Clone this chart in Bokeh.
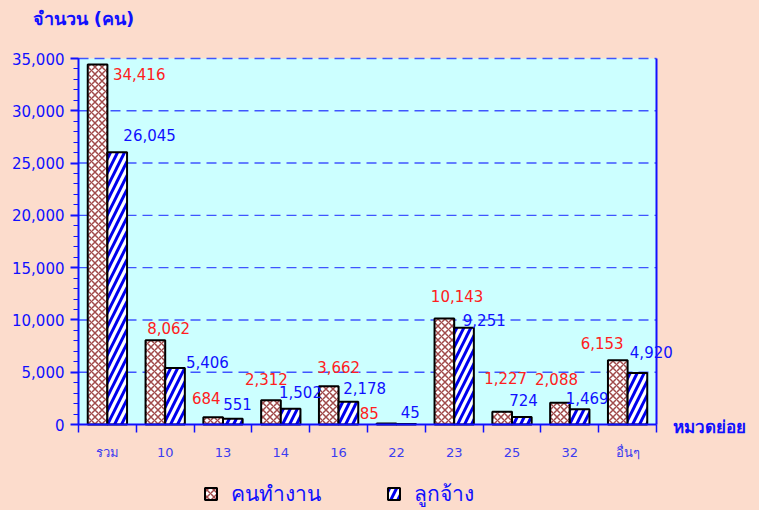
import numpy as np
from bokeh.plotting import figure
from bokeh.models import (ColumnDataSource, FixedTicker, Label, Legend, LegendItem,
                          NumeralTickFormatter)
from bokeh.embed import file_html
from bokeh.resources import INLINE
from bokeh.core.properties import value

# ---- data ----
categories = ["รวม", "10", "13", "14", "16", "22", "23", "25", "32", "อื่นๆ"]
workers = [34416, 8062, 684, 2312, 3662, 85, 10143, 1227, 2088, 6153]      # คนทำงาน
employees = [26045, 5406, 551, 1502, 2178, 45, 9251, 724, 1469, 4920]       # ลูกจ้าง
y_ticks = [0, 5000, 10000, 15000, 20000, 25000, 30000, 35000]

# label nudges (category units horizontally, pixels above bar top vertically)
red_dx = [0.55, 0.06, -0.29, -0.25, 0.0, -0.47, 0.05, -0.11, -0.23, -0.44]
red_dy = [-9, 12, 19, 21, 19, 11, 22, 34, 24, 17]
blue_dx = [0.73, 0.73, 0.25, 0.34, 0.45, 0.24, 0.52, 0.20, 0.30, 0.41]
blue_dy = [17, 6, 15, 17, 14, 12, 8, 17, 11, 21]

BLUE = "#1010ff"
RED = "#ff2020"
PEACH = "#fcdccc"
CYAN = "#ccffff"
FONT = "DejaVu Sans"

# ---- layout (canvas pixels) ----
W, H = 759, 510
PL, PR, PT, PB = 78, 656, 58, 424   # plot-area edges

n = len(categories)
ymax = y_ticks[-1]
centers = np.arange(n) + 0.5
bw = 0.34

# the frame covers the whole canvas; axes are pinned at x=0 / y=0
sx = (PR - PL) / n
sy = ymax / (PB - PT)
x_range = (-PL / sx, (W - PL) / sx)
y_range = (-(H - PB) * sy, ymax + PT * sy)

src = ColumnDataSource(dict(
    xr=centers - bw / 2, xb=centers + bw / 2,
    w=workers, e=employees,
    wl=[f"{v:,}" for v in workers], el=[f"{v:,}" for v in employees],
    xrl=centers + np.array(red_dx), xbl=centers + np.array(blue_dx),
    ryo=[-d for d in red_dy], byo=[-d for d in blue_dy],
))

p = figure(width=W, height=H, x_range=x_range, y_range=y_range,
           output_backend="svg", toolbar_location=None, title=None,
           min_border=0)
p.background_fill_color = PEACH
p.border_fill_color = PEACH
p.outline_line_color = None
p.xgrid.grid_line_color = None
p.ygrid.grid_line_color = None

# plotting-area background and dashed grid lines
p.quad(left=[0], right=[n], bottom=[0], top=[ymax], fill_color=CYAN, line_color=None)
p.segment(x0=[0] * (len(y_ticks) - 1), x1=[n] * (len(y_ticks) - 1),
          y0=y_ticks[1:], y1=y_ticks[1:], line_color="#3f55ff", line_dash="10 6",
          line_width=1.4)
# right border line of the plotting area
p.segment(x0=[n], x1=[n], y0=[0], y1=[ymax], line_color=BLUE, line_width=2)

r_red = p.vbar(x="xr", top="w", width=bw, source=src, fill_color="white",
               line_color="black", line_width=2,
               hatch_pattern="diagonal_cross", hatch_color="#a04a4a",
               hatch_scale=7, hatch_weight=1.5)
r_blue = p.vbar(x="xb", top="e", width=bw, source=src, fill_color="white",
                line_color="black", line_width=2,
                hatch_pattern="right_diagonal_line", hatch_color="#0000ee",
                hatch_scale=14, hatch_weight=3)

p.text(x="xrl", y="w", text="wl", source=src, y_offset="ryo",
       text_align="center", text_baseline="middle", text_color=RED,
       text_font=value(FONT), text_font_size="15px")
p.text(x="xbl", y="e", text="el", source=src, y_offset="byo",
       text_align="center", text_baseline="middle", text_color=BLUE,
       text_font=value(FONT), text_font_size="15px")

# y axis
ya = p.yaxis[0]
ya.fixed_location = 0
ya.bounds = (0, ymax)
ya.ticker = FixedTicker(ticks=y_ticks, minor_ticks=list(range(0, ymax + 1, 1000)))
ya.formatter = NumeralTickFormatter(format="0,0")
ya.axis_line_color = BLUE
ya.axis_line_width = 2
ya.major_tick_line_color = BLUE
ya.major_tick_line_width = 2
ya.minor_tick_line_color = BLUE
ya.minor_tick_line_width = 1
ya.major_tick_in = 0
ya.major_tick_out = 8
ya.minor_tick_in = 0
ya.minor_tick_out = 5
ya.major_label_standoff = 6
ya.major_label_text_color = BLUE
ya.major_label_text_font = FONT
ya.major_label_text_font_size = "15px"

# x axis
xa = p.xaxis[0]
xa.fixed_location = 0
xa.bounds = (0, n)
xa.ticker = FixedTicker(ticks=list(centers), minor_ticks=list(range(0, n + 1)))
xa.major_label_overrides = {float(c): lab for c, lab in zip(centers, categories)}
xa.axis_line_color = BLUE
xa.axis_line_width = 2
xa.major_tick_line_color = None
xa.major_tick_out = 0
xa.major_tick_in = 0
xa.minor_tick_line_color = BLUE
xa.minor_tick_line_width = 1.5
xa.minor_tick_in = 0
xa.minor_tick_out = 8
xa.major_label_standoff = 12
xa.major_label_text_color = "#3c3cf0"
xa.major_label_text_font = FONT
xa.major_label_text_font_size = "13px"

# captions (screen units: pixels from the canvas' bottom-left)
p.add_layout(Label(x=32, y=H - 18, x_units="screen", y_units="screen",
                   text="จำนวน (คน)", text_color=BLUE, text_font=FONT,
                   text_font_size="18px", text_font_style="bold", text_baseline="middle"))
p.add_layout(Label(x=672, y=H - 426, x_units="screen", y_units="screen",
                   text="หมวดย่อย", text_color=BLUE, text_font=FONT,
                   text_font_size="17px", text_font_style="bold", text_baseline="middle"))

legend = Legend(items=[LegendItem(label="คนทำงาน", renderers=[r_red]),
                       LegendItem(label="ลูกจ้าง", renderers=[r_blue])],
                location=(203, 0), orientation="horizontal",
                glyph_width=15, glyph_height=15, label_standoff=13, spacing=65,
                padding=0, margin=0, border_line_color=None,
                background_fill_alpha=0, label_text_color=BLUE,
                label_text_font=FONT, label_text_font_size="21px")
p.add_layout(legend, "center")

html = file_html(p, INLINE)
html = html.replace("<head>", "<head><style>html,body{background:%s;margin:0;padding:0;}</style>" % PEACH, 1)
open("out.html", "w").write(html)
